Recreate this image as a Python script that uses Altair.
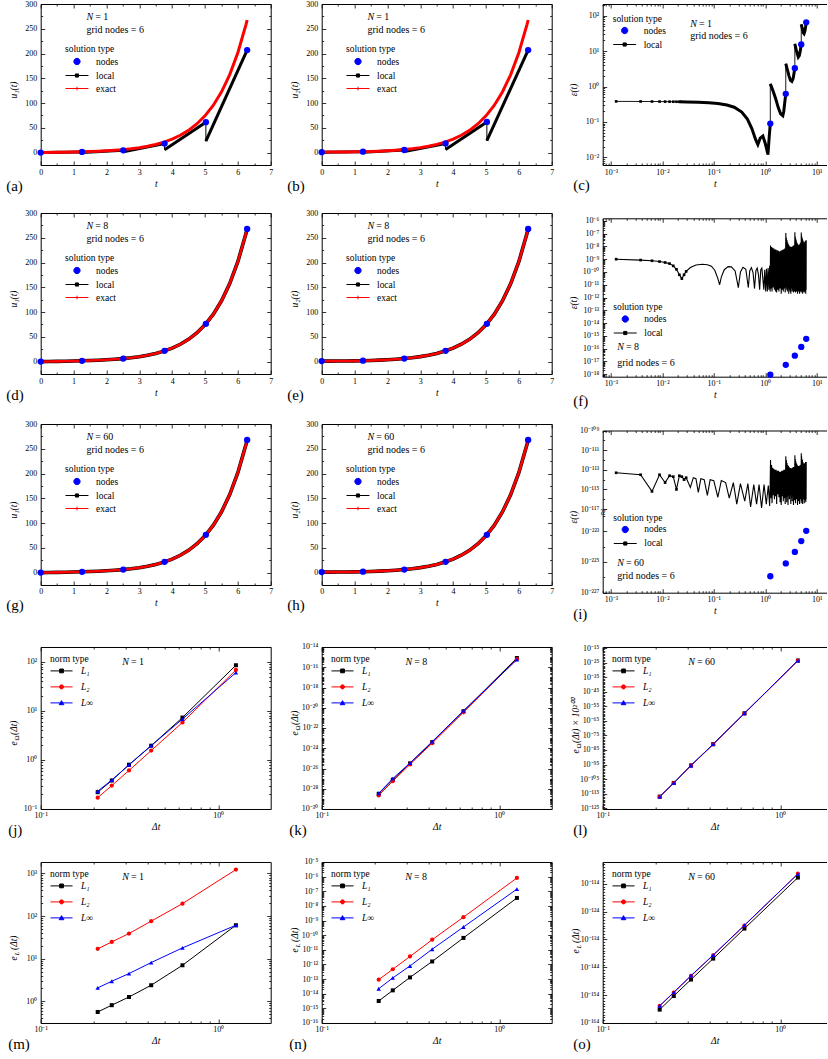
import json
import math
import altair as alt
import pandas as pd

FONT = "Liberation Serif"
SUP = str.maketrans("0123456789-", "\u2070\u00b9\u00b2\u00b3\u2074\u2075\u2076\u2077\u2078\u2079\u207b")
BLUE, RED, BLACK = "#0000ff", "#ff0000", "#000000"

# ------------------------------------------------------------------ data
t_exact = [0.0, 0.25, 0.5, 0.75, 1.0, 1.25, 1.5, 1.75, 2.0, 2.25, 2.5, 2.75, 3.0, 3.25,
           3.5, 3.75, 4.0, 4.25, 4.5, 4.75, 5.0, 5.25, 5.5, 5.75, 6.0, 6.25, 6.283]
u1_exact = [0.0, 0.25, 0.52, 0.82, 1.18, 1.6, 2.13, 2.79, 3.63, 4.69, 6.05, 7.79, 10.0, 12.9,
            16.5, 21.2, 27.3, 35.0, 45.0, 57.8, 74.2, 95.3, 122.3, 157.1, 201.7, 259.0, 267.7]
u2_exact = [1.0, 1.03, 1.13, 1.29, 1.54, 1.89, 2.35, 2.96, 3.76, 4.8, 6.13, 7.85, 10.1, 12.9,
            16.6, 21.3, 27.3, 35.1, 45.0, 57.8, 74.2, 95.3, 122.4, 157.1, 201.7, 259.0, 267.7]
t_nodes = [0.0, 1.257, 2.513, 3.770, 5.027, 6.283]
u1_nodes_n1 = [0.0, 1.4, 4.7, 18.2, 61.5, 207.0]
u2_nodes_n1 = [1.0, 1.9, 5.3, 18.6, 62.0, 207.0]
u1_nodes = [0.0, 1.6, 6.1, 21.7, 76.2, 267.7]
u2_nodes = [1.0, 1.9, 6.2, 21.7, 76.2, 267.7]
t_local_n1 = [0.0, 1.257, 1.257, 2.513, 2.513, 3.770, 3.770, 5.027, 5.027, 6.283]
u1_local_n1 = [0.0, 1.4, 0.4, 4.7, 1.5, 18.2, 6.0, 61.5, 23.0, 207.0]
u2_local_n1 = [1.0, 1.9, 0.9, 5.3, 2.0, 18.6, 6.5, 62.0, 24.0, 207.0]
seg_local_n1 = [0, 0, 1, 1, 2, 2, 3, 3, 4, 4]

# panel (c): local error, N = 1   (t, eps, piece)
c_local = [
    (0.00126, 0.38, 0), (0.00377, 0.378, 0), (0.00628, 0.377, 0), (0.0088, 0.376, 0), (0.0113, 0.375, 0),
    (0.0138, 0.374, 0), (0.0163, 0.373, 0), (0.0188, 0.372, 0), (0.0214, 0.371, 0), (0.03, 0.368, 0),
    (0.05, 0.36, 0), (0.08, 0.35, 0), (0.12, 0.33, 0), (0.18, 0.30, 0), (0.25, 0.26, 0), (0.35, 0.19, 0),
    (0.45, 0.12, 0), (0.55, 0.065, 0), (0.65, 0.032, 0), (0.72, 0.023, 0), (0.8, 0.035, 0), (0.9, 0.04, 0),
    (1.0, 0.025, 0), (1.13, 0.012, 0), (1.2, 0.04, 0), (1.257, 0.09, 0),
    (1.257, 1.19, 1), (1.4, 0.8, 1), (1.6, 0.45, 1), (1.8, 0.25, 1), (2.0, 0.17, 1), (2.2, 0.15, 1),
    (2.3, 0.2, 1), (2.4, 0.35, 1), (2.513, 0.62, 1),
    (2.513, 4.4, 2), (2.7, 3.0, 2), (2.9, 2.0, 2), (3.1, 1.5, 2), (3.3, 1.4, 2), (3.5, 1.7, 2), (3.77, 3.3, 2),
    (3.77, 16.0, 3), (4.0, 11.0, 3), (4.2, 8.5, 3), (4.4, 6.8, 3), (4.6, 7.5, 3), (4.8, 10.0, 3), (5.027, 15.5, 3),
    (5.027, 57.0, 4), (5.3, 42.0, 4), (5.5, 33.0, 4), (5.7, 31.0, 4), (5.9, 36.0, 4), (6.1, 48.0, 4), (6.283, 65.0, 4),
]
c_nodes = [0.09, 0.62, 3.3, 15.5, 65.0]

# panel (f): local error, N = 8   (t, eps)
f_local = [
    (0.00126, 1.0e-9), (0.00377, 8.5e-10), (0.00628, 7.5e-10), (0.0088, 6.5e-10), (0.0113, 5.5e-10),
    (0.0138, 4.5e-10), (0.0163, 3.0e-10), (0.0188, 1.6e-10), (0.0214, 6.0e-11), (0.0239, 3.0e-11),
    (0.0264, 6.0e-11), (0.029, 1.1e-10), (0.035, 2.2e-10), (0.045, 3.5e-10), (0.06, 4.0e-10),
    (0.075, 3.7e-10), (0.09, 2.8e-10), (0.105, 1.3e-10), (0.12, 3.0e-11), (0.13, 1.0e-11),
    (0.14, 4.0e-11), (0.16, 1.5e-10), (0.19, 2.6e-10), (0.22, 2.5e-10), (0.26, 1.2e-10),
    (0.30, 6.0e-12), (0.33, 1.0e-10), (0.37, 2.3e-10), (0.42, 1.6e-10), (0.47, 6.0e-12),
    (0.50, 1.2e-10), (0.54, 2.2e-10), (0.58, 9.0e-11), (0.62, 5.0e-12), (0.66, 1.3e-10),
    (0.70, 2.0e-10), (0.74, 6.0e-11), (0.78, 4.0e-12), (0.82, 1.5e-10), (0.86, 2.0e-10),
    (0.90, 3.0e-11), (0.94, 4.0e-12), (0.98, 1.5e-10), (1.02, 3.0e-12), (1.06, 1.8e-10),
    (1.10, 3.0e-12), (1.14, 2.0e-10), (1.18, 4.0e-12), (1.22, 3.0e-10), (1.25, 3.0e-12),
    (1.27, 1.2e-8), (1.30, 5.0e-12), (1.33, 9.0e-9), (1.36, 3.0e-12), (1.40, 8.0e-9), (1.43, 6.0e-12),
    (1.47, 7.0e-9), (1.51, 4.0e-12), (1.55, 6.0e-9), (1.59, 3.0e-12), (1.63, 5.5e-9), (1.67, 2.5e-12),
    (1.72, 5.0e-9), (1.76, 4.0e-12), (1.81, 4.5e-9), (1.85, 3.0e-12), (1.90, 4.0e-9), (1.95, 5.0e-12),
    (2.00, 4.5e-9), (2.05, 2.0e-12), (2.10, 5.0e-9), (2.15, 4.0e-12), (2.20, 5.5e-9), (2.25, 3.0e-12),
    (2.30, 6.0e-9), (2.35, 5.0e-12), (2.40, 7.0e-9), (2.45, 2.5e-12), (2.50, 8.0e-9),
    (2.52, 1.1e-7), (2.55, 6.0e-12), (2.58, 5.0e-8), (2.62, 4.0e-12), (2.66, 3.0e-8), (2.70, 3.0e-12),
    (2.74, 2.0e-8), (2.78, 5.0e-12), (2.83, 1.5e-8), (2.87, 2.0e-12), (2.92, 1.2e-8), (2.96, 4.0e-12),
    (3.01, 1.0e-8), (3.05, 3.0e-12), (3.10, 9.5e-9), (3.15, 2.0e-12), (3.20, 9.0e-9), (3.25, 5.0e-12),
    (3.30, 9.5e-9), (3.35, 3.0e-12), (3.40, 1.0e-8), (3.45, 4.0e-12), (3.50, 1.1e-8), (3.55, 2.5e-12),
    (3.60, 1.2e-8), (3.65, 4.0e-12), (3.70, 1.3e-8), (3.73, 3.0e-12), (3.76, 1.5e-8),
    (3.78, 1.3e-7), (3.81, 5.0e-12), (3.85, 6.0e-8), (3.89, 2.5e-12), (3.93, 4.0e-8), (3.97, 4.0e-12),
    (4.01, 3.0e-8), (4.05, 3.0e-12), (4.10, 2.0e-8), (4.15, 5.0e-12), (4.20, 1.8e-8), (4.25, 2.0e-12),
    (4.30, 1.5e-8), (4.35, 4.0e-12), (4.40, 1.3e-8), (4.45, 3.0e-12), (4.50, 1.2e-8), (4.55, 5.0e-12),
    (4.60, 1.3e-8), (4.65, 2.0e-12), (4.70, 1.5e-8), (4.75, 4.0e-12), (4.80, 1.7e-8), (4.85, 3.0e-12),
    (4.90, 2.0e-8), (4.95, 5.0e-12), (5.00, 2.2e-8), (5.01, 2.5e-12), (5.02, 2.5e-8),
    (5.03, 1.2e-7), (5.06, 5.0e-12), (5.10, 7.0e-8), (5.15, 3.0e-12), (5.20, 5.0e-8), (5.25, 4.0e-12),
    (5.30, 4.0e-8), (5.35, 2.0e-12), (5.40, 3.0e-8), (5.45, 5.0e-12), (5.50, 2.5e-8), (5.55, 3.0e-12),
    (5.60, 2.0e-8), (5.65, 4.0e-12), (5.70, 2.0e-8), (5.75, 2.5e-12), (5.80, 2.0e-8), (5.85, 5.0e-12),
    (5.90, 2.2e-8), (5.95, 3.0e-12), (6.00, 2.5e-8), (6.05, 4.0e-12), (6.10, 2.7e-8), (6.15, 2.0e-12),
    (6.20, 3.0e-8), (6.25, 4.0e-12), (6.28, 3.0e-8),
]
f_nodes = [9.0e-19, 5.4e-18, 2.8e-17, 1.35e-16, 5.8e-16]

# panel (i): local error, N = 60, given as log10(eps)   (t, log10 eps)
i_local = [
    (0.00126, -113.3), (0.00377, -113.5), (0.00628, -115.2), (0.0088, -113.5), (0.0113, -114.3),
    (0.0138, -113.6), (0.0163, -113.7), (0.0188, -115.0), (0.0214, -113.6), (0.0239, -113.7),
    (0.0264, -114.0), (0.029, -113.8), (0.035, -114.8), (0.04, -113.8), (0.045, -113.9),
    (0.05, -115.3), (0.056, -113.9), (0.065, -114.0), (0.075, -115.6), (0.085, -114.0),
    (0.10, -114.1), (0.12, -115.8), (0.14, -114.1), (0.17, -114.3), (0.20, -115.9),
    (0.24, -114.3), (0.28, -116.5), (0.33, -114.4), (0.40, -116.2), (0.46, -114.4),
    (0.52, -116.8), (0.60, -114.5), (0.68, -116.5), (0.76, -114.5), (0.85, -116.9),
    (0.95, -114.5), (1.05, -116.5), (1.15, -114.6), (1.22, -116.7), (1.25, -114.4),
    (1.27, -112.0), (1.30, -115.9), (1.33, -112.5), (1.36, -116.4), (1.40, -112.8), (1.43, -115.6),
    (1.47, -112.9), (1.51, -116.0), (1.55, -113.0), (1.59, -115.7), (1.63, -113.0), (1.67, -116.5),
    (1.72, -113.1), (1.76, -115.5), (1.81, -113.1), (1.85, -115.8), (1.90, -113.2), (1.95, -116.3),
    (2.00, -113.2), (2.05, -116.6), (2.10, -113.1), (2.15, -115.7), (2.20, -113.1), (2.25, -116.2),
    (2.30, -113.0), (2.35, -115.9), (2.40, -113.0), (2.45, -116.5), (2.50, -112.9),
    (2.52, -111.6), (2.55, -115.8), (2.58, -112.0), (2.62, -116.3), (2.66, -112.3), (2.70, -115.6),
    (2.74, -112.5), (2.78, -116.6), (2.83, -112.6), (2.87, -115.7), (2.92, -112.7), (2.96, -116.0),
    (3.01, -112.8), (3.05, -115.6), (3.10, -112.8), (3.15, -116.5), (3.20, -112.9), (3.25, -115.9),
    (3.30, -112.8), (3.35, -116.2), (3.40, -112.8), (3.45, -115.7), (3.50, -112.7), (3.55, -116.6),
    (3.60, -112.7), (3.65, -115.8), (3.70, -112.7), (3.73, -116.1), (3.76, -112.6),
    (3.78, -111.5), (3.81, -115.9), (3.85, -111.9), (3.89, -116.4), (3.93, -112.1), (3.97, -115.6),
    (4.01, -112.3), (4.05, -116.0), (4.10, -112.4), (4.15, -115.7), (4.20, -112.5), (4.25, -116.6),
    (4.30, -112.6), (4.35, -115.8), (4.40, -112.6), (4.45, -116.2), (4.50, -112.7), (4.55, -115.7),
    (4.60, -112.6), (4.65, -116.5), (4.70, -112.6), (4.75, -115.9), (4.80, -112.5), (4.85, -116.0),
    (4.90, -112.5), (4.95, -115.8), (5.00, -112.4), (5.01, -116.4), (5.02, -112.4),
    (5.03, -111.3), (5.06, -115.8), (5.10, -111.6), (5.15, -116.2), (5.20, -111.9), (5.25, -115.7),
    (5.30, -112.0), (5.35, -116.5), (5.40, -112.2), (5.45, -115.8), (5.50, -112.3), (5.55, -116.0),
    (5.60, -112.4), (5.65, -115.6), (5.70, -112.4), (5.75, -116.4), (5.80, -112.4), (5.85, -115.9),
    (5.90, -112.3), (5.95, -116.1), (6.00, -112.3), (6.05, -115.7), (6.10, -112.2), (6.15, -116.3),
    (6.20, -112.2), (6.25, -116.0), (6.28, -112.2),
]
i_nodes_log10 = [-225.93, -225.1, -224.35, -223.65, -222.98]

# convergence panels
dt_vals = [0.2094, 0.2513, 0.3142, 0.4189, 0.6283, 1.2566]
j_L1 = [0.22, 0.38, 0.80, 1.95, 7.3, 85.0]
j_L2 = [0.17, 0.30, 0.61, 1.55, 5.8, 68.0]
j_Li = [0.23, 0.39, 0.79, 1.95, 6.8, 60.0]
k_L1 = [3.2e-29, 7.9e-28, 3.2e-26, 4.0e-24, 4.5e-21, 8.1e-16]
k_L2 = [2.2e-29, 5.6e-28, 2.5e-26, 3.2e-24, 3.5e-21, 6.3e-16]
k_Li = [3.5e-29, 1.0e-27, 3.5e-26, 4.5e-24, 5.0e-21, 5.6e-16]
l_L1 = [1.0e-117, 2.5e-108, 2.5e-96, 1.0e-81, 1.6e-60, 2.5e-24]
l_L2 = [6.3e-118, 1.6e-108, 1.6e-96, 6.3e-82, 1.0e-60, 2.0e-24]
l_Li = [8.9e-118, 2.5e-108, 2.5e-96, 1.0e-81, 1.6e-60, 2.5e-24]
m_L1 = [0.56, 0.81, 1.26, 2.38, 7.0, 61.0]
m_L2 = [17.0, 24.7, 39.0, 76.0, 196.0, 1234.0]
m_Li = [2.06, 2.95, 4.47, 8.1, 17.9, 61.0]
n_L1 = [3.2e-15, 1.7e-14, 1.3e-13, 1.6e-12, 6.5e-11, 3.5e-8]
n_L2 = [9.1e-14, 4.7e-13, 3.5e-12, 4.9e-11, 1.7e-9, 8.1e-7]
n_Li = [2.2e-14, 1.2e-13, 7.9e-13, 1.1e-11, 3.6e-10, 1.4e-7]
o_L1 = [6.3e-160, 5.0e-155, 4.0e-149, 1.3e-141, 7.9e-131, 1.6e-112]
o_L2 = [1.3e-158, 7.9e-154, 7.9e-148, 2.0e-140, 1.0e-129, 4.0e-111]
o_Li = [1.6e-158, 1.0e-153, 1.0e-147, 2.5e-140, 1.3e-129, 3.2e-111]

SOL_DOMAIN = ["nodes", "local", "exact"]
ERR_DOMAIN = ["nodes", "local"]
NORM_DOMAIN = ["L\u2081", "L\u2082", "L\u221e"]

# ------------------------------------------------------------------ styling helpers
P_NODE = "M2.25,0A0.7,0.7,0,1,1,0.85,0A0.7,0.7,0,1,1,2.25,0Z"
P_LOCAL = "M-1,0H4.1M1.2,-0.35H1.9V0.35H1.2Z"
P_EXACT = "M-1,0H4.1M1.55,-0.4V0.4M1.15,0H1.95"
P_L1 = "M-1,0H3.9M1.03,-0.42H1.87V0.42H1.03Z"
P_L2 = "M-1,0H3.9M1.9,0A0.45,0.45,0,1,1,1.0,0A0.45,0.45,0,1,1,1.9,0Z"
P_LI = "M-1,0H3.9M1.45,-0.5L1.97,0.4H0.93Z"

COLW = [230, 230, 224]
ROWH = [161, 161, 161, 162, 161]
GAPS = [48, 50, 62, 53]

AXBASE = dict(grid=False, domainColor=BLACK, domainWidth=1, tickColor=BLACK, tickWidth=0.8,
              labelColor=BLACK, labelFont=FONT, labelFontSize=8, labelFlush=False,
              labelOverlap=False, titleFont=FONT, titleColor=BLACK, titleFontWeight="normal")


def p10(e):
    return "10" + str(e).translate(SUP)


def dec(e):
    return float("1e%d" % e)


def log_labexpr(exps):
    texts = [p10(e) for e in exps]
    return "%s[indexof(%s, round(log(datum.value)/LN10))]" % (
        json.dumps(texts, ensure_ascii=False), json.dumps(exps))


def log_minor(lo, hi, major_exps, sub=True):
    out = []
    for e in range(math.floor(math.log10(lo)) - 1, math.ceil(math.log10(hi)) + 1):
        for m in (range(1, 10) if sub else [1]):
            if m == 1 and e in major_exps:
                continue
            v = m * dec(e)
            if lo <= v <= hi:
                out.append(v)
    return out


def tk(text, x, y, size=9.5, style="normal", align="left", angle=0, baseline="middle"):
    return dict(text=text, x=x, y=y, size=size, style=style, align=align, angle=angle, baseline=baseline)


def tkw(t, gx, gy):
    if t is None:
        return dict(title=None)
    return dict(title=t["text"], titleX=t["x"] - gx, titleY=t["y"] - gy, titleFontSize=t["size"],
                titleFontStyle=t["style"], titleAlign=t["align"], titleAngle=t["angle"],
                titleBaseline=t["baseline"])


def x_axes(W, H, rect, major, minor, labexpr, T):
    x0, x1, y0, y1 = rect
    out = []
    for orient in ("bottom", "top"):
        for kind in ("d", "M", "m"):
            key = orient[0] + kind
            kw = dict(AXBASE)
            base, g = (y1 - H, y1) if orient == "bottom" else (-y0, y0)
            if kind == "d":
                off, gy = base, g
                kw.update(domain=True, ticks=False, labels=False)
            else:
                ts = 4 if kind == "M" else 2
                off = base - ts
                gy = g - ts if orient == "bottom" else g + ts
                show = kind == "M" and orient == "bottom"
                kw.update(domain=False, ticks=True, tickSize=ts,
                          values=(major if kind == "M" else minor), labels=show)
                if show:
                    kw.update(labelPadding=3)
                    if labexpr:
                        kw.update(labelExpr=labexpr)
            kw.update(tkw(T.get(key), 0, gy))
            out.append(alt.Axis(orient=orient, offset=off, **kw))
    return out


def y_axes(W, H, rect, major, minor, labexpr, T, right=True):
    x0, x1, y0, y1 = rect
    out = []
    for orient in ("left", "right"):
        for kind in ("d", "M", "m"):
            if orient == "right" and not right:
                out.append(None)
                continue
            key = orient[0] + kind
            kw = dict(AXBASE)
            base, g = (-x0, x0) if orient == "left" else (x1 - W, x1)
            if kind == "d":
                off, gx = base, g
                kw.update(domain=True, ticks=False, labels=False)
            else:
                ts = 4 if kind == "M" else 2
                off = base - ts
                gx = g + ts if orient == "left" else g - ts
                show = kind == "M" and orient == "left"
                kw.update(domain=False, ticks=True, tickSize=ts,
                          values=(major if kind == "M" else minor), labels=show)
                if show:
                    kw.update(labelPadding=4)
                    if labexpr:
                        kw.update(labelExpr=labexpr)
            kw.update(tkw(T.get(key), gx, 0))
            out.append(alt.Axis(orient=orient, offset=off, **kw))
    return out


def line(df, xsc, ysc, color, width, yf="v", detail=None, calc=None, filt=None):
    ch = alt.Chart(df)
    if calc:
        ch = ch.transform_calculate(**calc)
    if filt:
        ch = ch.transform_filter(filt)
    enc = dict(x=alt.X("t:Q", scale=xsc, axis=None), y=alt.Y(yf + ":Q", scale=ysc, axis=None),
               order=alt.Order("i:Q"))
    if detail:
        enc["detail"] = alt.Detail(detail + ":N")
    return ch.mark_line(color=color, strokeWidth=width).encode(**enc)


def points(df, xsc, ysc, color, shape, size, yf="v", calc=None, filt=None):
    ch = alt.Chart(df)
    if calc:
        ch = ch.transform_calculate(**calc)
    if filt:
        ch = ch.transform_filter(filt)
    return ch.mark_point(shape=shape, size=size, filled=True, color=color, opacity=1, strokeWidth=0).encode(
        x=alt.X("t:Q", scale=xsc, axis=None), y=alt.Y(yf + ":Q", scale=ysc, axis=None))


def legend_kw(title, lx, ly, rowpad, titlepad, italic=False, labeloff=21):
    return dict(orient="none", legendX=lx, legendY=ly, title=title, titleFont=FONT, titleFontSize=9.5,
                titleFontWeight="normal", titleColor=BLACK, titlePadding=titlepad,
                labelFont=FONT, labelFontSize=9.5, labelColor=BLACK,
                labelFontStyle="italic" if italic else "normal", labelOffset=labeloff,
                symbolSize=81, symbolStrokeWidth=1, rowPadding=rowpad, padding=0)


def legend_layer(df, xsc, ysc, yf, domain, colors, shapes, lkw):
    leg = alt.Legend(**lkw)
    cs = alt.Scale(domain=domain, range=colors)
    ss = alt.Scale(domain=domain, range=shapes)
    return (alt.Chart(df).transform_filter("false")
            .mark_point(filled=True, opacity=1)
            .encode(x=alt.X("t:Q", scale=xsc, axis=None),
                    y=alt.Y(yf + ":Q", scale=ysc, axis=None),
                    color=alt.Color("k:N", scale=cs, legend=leg),
                    stroke=alt.Stroke("k:N", scale=cs, legend=leg),
                    shape=alt.Shape("k:N", scale=ss, legend=leg)))


def assemble(W, H, layers, xsc, ysc, yf, xa, ya, axis_df):
    for k in range(6):
        layers.append(alt.Chart(axis_df).mark_point(opacity=0).encode(
            x=alt.X("t:Q", scale=xsc, axis=xa[k]),
            y=alt.Y(yf + ":Q", scale=ysc, axis=ya[k])))
    return alt.layer(*layers).resolve_axis(x="independent", y="independent").properties(width=W, height=H)


def indexed(d):
    d = d.copy()
    d["i"] = range(len(d))
    return d


# ------------------------------------------------------------------ panels
LIN_XM = [0, 1, 2, 3, 4, 5, 6, 7]
LIN_Xm = [0.5, 1.5, 2.5, 3.5, 4.5, 5.5, 6.5]
LIN_YM = [0, 50, 100, 150, 200, 250, 300]
LIN_Ym = [-25, 25, 75, 125, 175, 225, 275]


def u_panel(letter, sub, u_ex, t_loc, u_loc, seg, u_nd, N, W, H):
    rect = (0, W, 0, H)
    x0, x1, y0, y1 = rect
    xsc = alt.Scale(type="linear", domain=[0, 7], range=[x0, x1], nice=False, zero=False)
    ysc = alt.Scale(type="linear", domain=[-25, 300], range=[y1, y0], nice=False, zero=False)
    ex = indexed(pd.DataFrame({"t": t_exact, "v": u_ex}))
    lo = indexed(pd.DataFrame({"t": t_loc, "v": u_loc}))
    nd = pd.DataFrame({"t": t_nodes, "v": u_nd})
    L = []
    if seg is not None:
        lo["seg"] = seg
        L.append(line(lo, xsc, ysc, BLACK, 1.0))
        L.append(line(lo, xsc, ysc, BLACK, 3.0, detail="seg"))
        L.append(line(ex, xsc, ysc, RED, 3.0))
    else:
        L.append(line(lo, xsc, ysc, BLACK, 3.6))
        L.append(line(ex, xsc, ysc, RED, 2.6))
    L.append(points(nd, xsc, ysc, BLUE, "circle", 40))
    L.append(legend_layer(nd, xsc, ysc, "v", SOL_DOMAIN, [BLUE, BLACK, RED], [P_NODE, P_LOCAL, P_EXACT],
                          legend_kw("solution type", x0 + 24.3, y0 + 40, 3, 3)))
    T = {"bd": tk("(%s)" % letter, x0 - 35, y1 + 20, size=15),
         "bM": tk("t", (x0 + x1) / 2, y1 + 18, style="italic", align="center"),
         "td": tk("N", x0 + 45.3, y0 + 12, size=10, style="italic"),
         "tM": tk("= %d" % N, x0 + 54, y0 + 12, size=10),
         "tm": tk("grid nodes = 6", x0 + 45.3, y0 + 25.3, size=10)}
    TY = {"ld": tk("u%s(t)" % sub, x0 - 27, (y0 + y1) / 2 + 5, style="italic", align="center", angle=270)}
    xa = x_axes(W, H, rect, LIN_XM, LIN_Xm, None, T)
    ya = y_axes(W, H, rect, LIN_YM, LIN_Ym, None, TY, right=True)
    axis_df = pd.DataFrame({"t": [3.0], "v": [100.0]})
    return assemble(W, H, L, xsc, ysc, "v", xa, ya, axis_df)


XLOG_ERR = [10 ** -3.161, 10 ** 1.196]
XLOG_EXPS = [-3, -2, -1, 0, 1]


def err_panel(letter, W, H, rect, local, nodes, yscale, ymajor, yminor, ylabexpr, calc,
              ntext, npos, legpos, label_y, thick=False, brk=None):
    x0, x1, y0, y1 = rect
    xsc = alt.Scale(type="log", domain=XLOG_ERR, range=[x0, x1], nice=False)
    ysc = alt.Scale(range=[y1, y0], nice=False, **yscale)
    yf = "s" if calc else "v"
    if thick:
        lo = indexed(pd.DataFrame(local, columns=["t", "v", "seg"]))
    else:
        lo = indexed(pd.DataFrame(local, columns=["t", "v"]))
    nd = pd.DataFrame({"t": t_nodes[1:], "v": nodes})
    L = [line(lo, xsc, ysc, BLACK, 0.9 if thick else 1.1, yf=yf, calc=calc)]
    if thick:
        L.append(line(lo, xsc, ysc, BLACK, 3.0, yf=yf, detail="seg", filt="datum.t >= 0.02"))
    L.append(points(lo, xsc, ysc, BLACK, "square", 7, yf=yf, calc=calc, filt="datum.t < 0.03"))
    L.append(points(nd, xsc, ysc, BLUE, "circle", 40, yf=yf, calc=calc))
    axis_df = pd.DataFrame({"t": [0.1], yf: [yscale["domain"][0]]})
    L.append(legend_layer(axis_df, xsc, ysc, yf, ERR_DOMAIN, [BLUE, BLACK], [P_NODE, P_LOCAL],
                          legend_kw("solution type", legpos[0], legpos[1], 3, 2.5)))
    xminor = log_minor(XLOG_ERR[0], XLOG_ERR[1], XLOG_EXPS)
    T = {"bd": tk("(%s)" % letter, x0 - 30, label_y, size=15),
         "bM": tk("t", (x0 + x1) / 2, y1 + 18, style="italic", align="center"),
         "td": tk("N", npos[0], npos[1], size=10, style="italic"),
         "tM": tk("= %d" % ntext, npos[0] + 8.7, npos[1], size=10),
         "tm": tk("grid nodes = 6", npos[0], npos[2], size=10)}
    TY = {"ld": tk("\u03b5(t)", x0 - 29, (y0 + y1) / 2 + 5, style="italic", align="center", angle=270)}
    if brk is not None:
        TY["lm"] = tk("\u2248", x0, brk, size=12, align="center", angle=90)
    xa = x_axes(W, H, rect, [dec(e) for e in XLOG_EXPS], xminor, log_labexpr(XLOG_EXPS), T)
    ya = y_axes(W, H, rect, ymajor, yminor, ylabexpr, TY, right=False)
    if calc:
        axis_df = pd.DataFrame({"t": [0.1], "s": [50.0]})
    return assemble(W, H, L, xsc, ysc, yf, xa, ya, axis_df)


def conv_panel(letter, W, H, ydom, lab_exps, sub, L1, L2, Li, N, tparts, tbase, npos_x, right):
    rect = (0, W, 0, H)
    xdom = [0.1, 10 ** (W / 177.6 - 1)]
    xsc = alt.Scale(type="log", domain=xdom, range=[0, W], nice=False)
    ysc = alt.Scale(type="log", domain=ydom, range=[H, 0], nice=False)
    d1 = indexed(pd.DataFrame({"t": dt_vals, "v": L1}))
    d2 = indexed(pd.DataFrame({"t": dt_vals, "v": L2}))
    d3 = indexed(pd.DataFrame({"t": dt_vals, "v": Li}))
    L = [line(d1, xsc, ysc, BLACK, 1.0), points(d1, xsc, ysc, BLACK, "square", 16),
         line(d2, xsc, ysc, RED, 1.0), points(d2, xsc, ysc, RED, "circle", 18),
         line(d3, xsc, ysc, BLUE, 1.0), points(d3, xsc, ysc, BLUE, "triangle-up", 20)]
    L.append(legend_layer(d1, xsc, ysc, "v", NORM_DOMAIN, [BLACK, RED, BLUE], [P_L1, P_L2, P_LI],
                          legend_kw("norm type", 9.3, 6.9, 6, 2.5, italic=True)))
    xminor = log_minor(xdom[0], xdom[1], [-1, 0])
    lx = -30 if not right else -33
    T = {"bd": tk("(%s)" % letter, lx, H + 21, size=15),
         "bM": tk("\u0394t", W / 2, H + 18, style="italic", align="center"),
         "td": tk("N", npos_x, 15, size=10, style="italic"),
         "tM": tk("= %d" % N, npos_x + 8.7, 15, size=10)}
    TY = {"ld": tk(tparts[0], -27, tbase, style="italic", angle=270),
          "lM": tk(tparts[1], -24.5, tbase - 5, size=7, style="italic" if tparts[1] == "L" else "normal",
                   angle=270),
          "lm": tk(tparts[2], -27, tbase - 10.5, style="italic", angle=270)}
    xa = x_axes(W, H, rect, [0.1, 1.0], xminor, log_labexpr([-1, 0]), T)
    ya = y_axes(W, H, rect, [dec(e) for e in lab_exps], log_minor(ydom[0], ydom[1], lab_exps, sub=sub),
                log_labexpr(lab_exps), TY, right=right)
    axis_df = pd.DataFrame({"t": [0.5], "v": [ydom[0]]})
    return assemble(W, H, L, xsc, ysc, "v", xa, ya, axis_df)


def spacer(W, h):
    return alt.Chart(pd.DataFrame({"a": [0]})).mark_point(opacity=0).encode(
        x=alt.X("a:Q", axis=None), y=alt.Y("a:Q", axis=None)).properties(width=W, height=h)


W1, W2, W3 = COLW
H1, H2, H3, H4, H5 = ROWH

pa = u_panel("a", "\u2081", u1_exact, t_local_n1, u1_local_n1, seg_local_n1, u1_nodes_n1, 1, W1, H1)
pb = u_panel("b", "\u2082", u2_exact, t_local_n1, u2_local_n1, seg_local_n1, u2_nodes_n1, 1, W2, H1)
pd_ = u_panel("d", "\u2081", u1_exact, t_exact, u1_exact, None, u1_nodes, 8, W1, H2)
pe = u_panel("e", "\u2082", u2_exact, t_exact, u2_exact, None, u2_nodes, 8, W2, H2)
pg = u_panel("g", "\u2081", u1_exact, t_exact, u1_exact, None, u1_nodes, 60, W1, H3)
ph = u_panel("h", "\u2082", u2_exact, t_exact, u2_exact, None, u2_nodes, 60, W2, H3)

# (c)
c_exps = [-2, -1, 0, 1, 2]
c_dom = [10 ** -2.217, 10 ** 2.331]
pc = err_panel("c", W3, H1, (0, W3, 0, H1), c_local, c_nodes,
               dict(type="log", domain=c_dom), [dec(e) for e in c_exps], log_minor(c_dom[0], c_dom[1], c_exps),
               log_labexpr(c_exps), None, 1, (87, 19, 31), (10, 9.5), H1 + 19.3, thick=True)
# (f)
f_exps = list(range(-18, -5))
f_dom = [10 ** -18.2, 10 ** -5.8]
f_rect = (0, W3, 5.3, 163.7)
pf = err_panel("f", W3, H2, f_rect, f_local, f_nodes,
               dict(type="log", domain=f_dom), [dec(e) for e in f_exps], log_minor(f_dom[0], f_dom[1], f_exps),
               log_labexpr(f_exps), None, 8, (14, 133.7, 149), (10.6, 89), 187)
# (i)  broken axis: upper part 1e-117..1e-109, lower part 1e-227..1e-222
I_CALC = {"s": "datum.v > -150 ? 83.7 + (datum.v + 117) * 9.79 : (datum.v + 227) * 15.4"}


def s_of(lg):
    return 83.7 + (lg + 117) * 9.79 if lg > -150 else (lg + 227) * 15.4


i_lab = [-109, -111, -113, -115, -117, -223, -225, -227]
i_min = [-110, -112, -114, -116, -222, -224, -226]
i_major = [s_of(e) for e in i_lab]
i_minor = [s_of(e) for e in i_min]
i_labexpr = "%s[indexof(%s, round(datum.value*10))]" % (
    json.dumps([p10(e) for e in i_lab], ensure_ascii=False),
    json.dumps([int(math.floor(v * 10 + 0.5)) for v in i_major]))
i_rect = (0, W3, 6.5, 168.7)
pi = err_panel("i", W3, H3, i_rect, i_local, i_nodes_log10,
               dict(type="linear", domain=[0, 162.2], zero=False), i_major, i_minor, i_labexpr, I_CALC,
               60, (14, 139, 151.7), (10.6, 88.5), 189.3, brk=168.7 - 81)

OM = "\u03a9"
pj = conv_panel("j", W1, H4, [0.1, 200], [-1, 0, 1, 2], True, j_L1, j_L2, j_Li, 1,
                ("e", OM, "(\u0394t)"), 98, 81, True)
pk = conv_panel("k", W2, H4, [1e-30, 1e-14], list(range(-30, -13, 2)), True, k_L1, k_L2, k_Li, 8,
                ("e", OM, "(\u0394t)"), 88, 83.3, True)
pl = conv_panel("l", W3, H4, [10 ** -125.5, 10 ** -14.3], list(range(-125, -14, 10)), False, l_L1, l_L2, l_Li,
                60, ("e", OM, "(\u0394t) \u00d7 10\u00b2\u2070\u2070"), 106, 85, False)
pm = conv_panel("m", W1, H5, [10 ** -0.51, 10 ** 3.27], [0, 1, 2, 3], True, m_L1, m_L2, m_Li, 1,
                ("e", "L", "(\u0394t)"), 98, 81, True)
pn = conv_panel("n", W2, H5, [1e-16, 1e-5], list(range(-16, -4)), True, n_L1, n_L2, n_Li, 8,
                ("e", "L", "(\u0394t)"), 90, 83, True)
po = conv_panel("o", W3, H5, [1e-164, 10 ** -106.2], list(range(-164, -113, 10)), False, o_L1, o_L2, o_Li,
                60, ("e", "L", "(\u0394t)"), 91, 85, False)

cells = [pa, pb, pc]
cells += [spacer(w, GAPS[0]) for w in COLW]
cells += [pd_, pe, pf]
cells += [spacer(w, GAPS[1]) for w in COLW]
cells += [pg, ph, pi]
cells += [spacer(w, GAPS[2]) for w in COLW]
cells += [pj, pk, pl]
cells += [spacer(w, GAPS[3]) for w in COLW]
cells += [pm, pn, po]

chart = (alt.concat(*cells, columns=3, spacing={"row": 0, "column": 51}, bounds="flush", align="each")
         .resolve_scale(color="independent", stroke="independent", shape="independent")
         .configure_view(stroke=None)
         .properties(padding={"left": 5.7, "top": 0, "right": 0, "bottom": 0}, background="white",
                     autosize=alt.AutoSizeParams(type="pad")))

chart.save("out.html", embed_options={"renderer": "svg", "actions": False})
